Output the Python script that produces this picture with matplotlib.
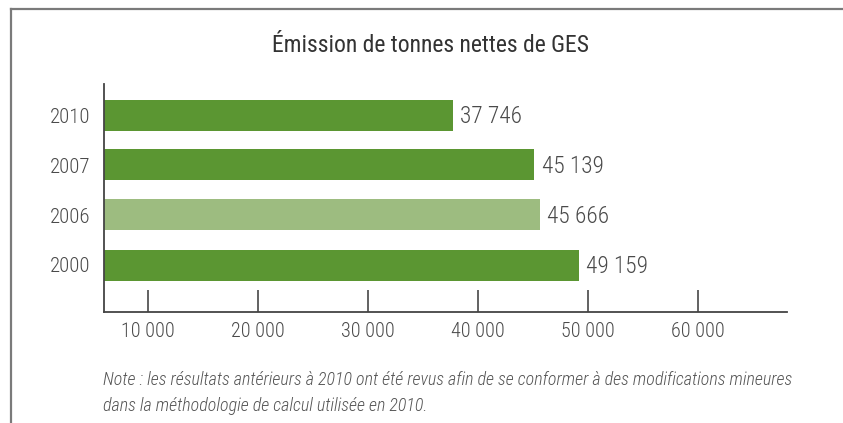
import matplotlib
matplotlib.use("Agg")
import matplotlib.pyplot as plt
from matplotlib import font_manager as fm
from matplotlib.lines import Line2D

names = {f.name for f in fm.fontManager.ttflist}
cands = ["Roboto Condensed", "Archivo Narrow", "Asap Condensed", "Roboto"]
FONT = next(c for c in cands if c in names)
plt.rcParams['font.family'] = [FONT, 'DejaVu Sans']

years = ["2000", "2006", "2007", "2010"]
values = [49159, 45666, 45139, 37746]
value_labels = ["49 159", "45 666", "45 139", "37 746"]
bar_colors = ["#5b9632", "#9dbc80", "#5b9632", "#5b9632"]
tick_values = [10000, 20000, 30000, 40000, 50000, 60000]
tick_labels = ["10 000", "20 000", "30 000", "40 000", "50 000", "60 000"]
title = "Émission de tonnes nettes de GES"
note = ("Note : les résultats antérieurs à 2010 ont été revus afin de se conformer à des modifications mineures\n"
        "dans la méthodologie de calcul utilisée en 2010.")

TXT = "#4a4a4a"
W, H = 843, 423
fig = plt.figure(figsize=(W / 100, H / 100), dpi=100)

x0, x1 = 104, 787
y_top, y_bot = 84, 312
ax = fig.add_axes([x0 / W, 1 - y_bot / H, (x1 - x0) / W, (y_bot - y_top) / H])

pos = list(range(len(years)))
ax.barh(pos, values, height=0.62, color=bar_colors, zorder=2)
for p, v, lab in zip(pos, values, value_labels):
    ax.text(v + 650, p - 0.03, lab, va="center", ha="left", fontsize=16.8, color=TXT,
            fontweight="light")

ax.set_xlim(6000, 68100)
ax.set_ylim(-0.94, 3.62)
ax.set_yticks(pos)
ax.set_yticklabels(years, fontsize=15, color=TXT, fontweight="light")
ax.tick_params(axis="y", length=0, pad=10)
ax.set_xticks(tick_values)
ax.set_xticklabels(tick_labels, fontsize=14.5, color=TXT, fontweight="light")
ax.tick_params(axis="x", direction="in", length=16, width=1.3, color="#555555", pad=7)

for s in ["top", "right"]:
    ax.spines[s].set_visible(False)
for s in ["left", "bottom"]:
    ax.spines[s].set_color("#444444")
    ax.spines[s].set_linewidth(1.3)

fig.text(430 / W, 1 - 45 / H, title, ha="center", va="center", fontsize=17, color="#333333")
fig.text(103 / W, 1 - 393 / H, note, ha="left", va="center", fontsize=13, style="italic",
         color="#555555", linespacing=1.55, fontweight="light")

fig.add_artist(Line2D([10.5 / W, 1.0], [1 - 9 / H, 1 - 9 / H], color="#7a7a7a", lw=1.6,
                      transform=fig.transFigure))
fig.add_artist(Line2D([10.5 / W, 10.5 / W], [1 - 9 / H, 0], color="#7a7a7a", lw=1.6,
                      transform=fig.transFigure))

fig.savefig("out.png", dpi=100)
